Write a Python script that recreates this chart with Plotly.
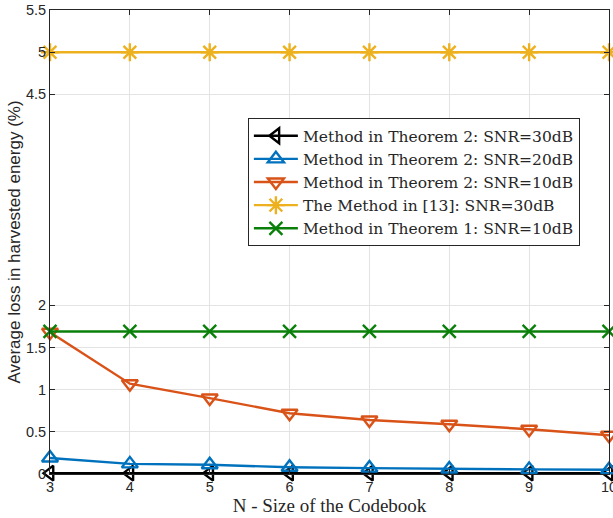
import plotly.graph_objects as go

# Codebook sizes
N = [3, 4, 5, 6, 7, 8, 9, 10]

# Average loss in harvested energy (%)
thm2_snr30 = [0.01, 0.01, 0.01, 0.01, 0.01, 0.01, 0.01, 0.01]
thm2_snr20 = [0.19, 0.12, 0.11, 0.08, 0.07, 0.06, 0.055, 0.05]
thm2_snr10 = [1.68, 1.07, 0.90, 0.72, 0.64, 0.59, 0.53, 0.46]
ref13_snr30 = [5.0, 5.0, 5.0, 5.0, 5.0, 5.0, 5.0, 5.0]
thm1_snr10 = [1.69, 1.69, 1.69, 1.69, 1.69, 1.69, 1.69, 1.69]

y_ticks = [0, 0.5, 1, 1.5, 2, 4.5, 5, 5.5]
y_tick_text = ["0", "0.5", "1", "1.5", "2", "4.5", "5", "5.5"]
x_ticks = N

series = [
    ("Method in Theorem 2: SNR=30dB", thm2_snr30, "#000000", "triangle-left-open", 13),
    ("Method in Theorem 2: SNR=20dB", thm2_snr20, "#0072BD", "triangle-up-open", 14),
    ("Method in Theorem 2: SNR=10dB", thm2_snr10, "#D95319", "triangle-down-open", 14),
    ("The Method in [13]: SNR=30dB", ref13_snr30, "#EDB120", "asterisk-open", 15),
    ("Method in Theorem 1: SNR=10dB", thm1_snr10, "#0A800A", "x-thin-open", 13),
]

fig = go.Figure()
for name, vals, color, sym, size in series:
    fig.add_trace(go.Scatter(
        x=N, y=vals, name=name, mode="lines+markers",
        line=dict(color=color, width=2.4),
        marker=dict(symbol=sym, size=size, color=color,
                    line=dict(color=color, width=2.4)),
        cliponaxis=False,
    ))

sans = "Liberation Sans, Arial, sans-serif"
serif = "Liberation Serif, Times New Roman, serif"

axis_common = dict(
    showgrid=True, gridcolor="#e3e3e3", gridwidth=1,
    showline=True, linecolor="#262626", linewidth=1, mirror="ticks",
    ticks="inside", ticklen=5, tickcolor="#262626",
    tickfont=dict(family=sans, size=14.5, color="#262626"),
    ticklabeloverflow="allow",
    automargin=False,
    zeroline=False,
)

fig.update_layout(
    width=613, height=518,
    margin=dict(l=50, r=4, t=10, b=44),
    paper_bgcolor="white", plot_bgcolor="white",
    xaxis=dict(range=[3, 10], tickvals=x_ticks, **axis_common,
               title=dict(text="N - Size of the Codebook", standoff=0,
                          font=dict(family=serif, size=19, color="#262626"))),
    yaxis=dict(range=[0, 5.5], tickvals=y_ticks, ticktext=y_tick_text, **axis_common,
               title=dict(text="Average loss in harvested energy (%)", standoff=0,
                          font=dict(family=sans, size=17, color="#262626"))),
    legend=dict(
        x=0.354, y=0.767, xanchor="left", yanchor="top",
        bgcolor="white", bordercolor="#262626", borderwidth=1,
        font=dict(family="DejaVu Serif, serif", size=15.5, color="#262626"),
        tracegroupgap=0, itemwidth=44,
    ),
    showlegend=True,
)

fig.write_html("out.html")
